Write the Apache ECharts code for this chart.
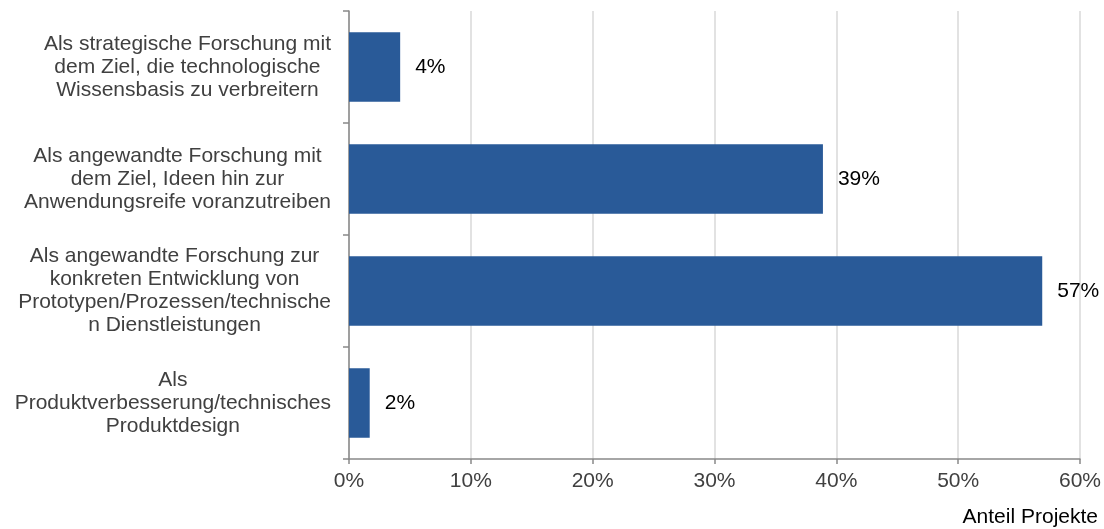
<!DOCTYPE html>
<html>
<head>
<meta charset="utf-8">
<script src="https://cdn.jsdelivr.net/npm/echarts@6/dist/echarts.min.js"></script>
<style>
  html, body { margin: 0; padding: 0; background: #fff; }
  #chart { width: 1104px; height: 529px; }
</style>
</head>
<body>
<div id="chart"></div>
<script>
// Kategorien (von oben nach unten)
const categories = [
  "Als strategische Forschung mit\ndem Ziel, die technologische\nWissensbasis zu verbreitern",
  "Als angewandte Forschung mit\ndem Ziel, Ideen hin zur\nAnwendungsreife voranzutreiben",
  "Als angewandte Forschung zur\nkonkreten Entwicklung von\nPrototypen/Prozessen/technische\nn Dienstleistungen",
  "Als\nProduktverbesserung/technisches\nProduktdesign"
]
// Anteil Projekte in %
const shares = [4.2, 38.9, 56.9, 1.7]
const xTicks = [0, 10, 20, 30, 40, 50, 60]
const xName = "Anteil Projekte"

const font = "'Liberation Sans', Arial, sans-serif"

const chart = echarts.init(document.getElementById("chart"))
window.addEventListener("resize", function () {
  chart.resize()
})

chart.setOption({
  animation: false,
  // Achsentitel unten rechts
  title: {
    text: xName,
    right: 6,
    top: 507,
    padding: 0,
    textStyle: { fontFamily: font, fontSize: 21, fontWeight: "normal", color: "#000", lineHeight: 21 }
  },
  grid: { left: 349, right: 24, top: 11, bottom: 70, containLabel: false, outerBoundsMode: "none" },
  xAxis: {
    type: "value",
    min: xTicks[0],
    max: xTicks[xTicks.length - 1],
    interval: 10,
    axisLine: { show: true, lineStyle: { color: "#898989", width: 1.5 } },
    axisTick: { show: true, length: 5, lineStyle: { color: "#898989", width: 1.5 } },
    axisLabel: {
      formatter: "{value}%",
      fontFamily: font,
      fontSize: 21,
      color: "#404040",
      margin: 12
    },
    splitLine: { show: true, lineStyle: { color: "#d9d9d9", width: 1.5 } }
  },
  yAxis: {
    type: "category",
    data: categories,
    inverse: true,
    axisLine: { show: true, lineStyle: { color: "#898989", width: 1.5 } },
    axisTick: { show: true, length: 6, alignWithLabel: false, lineStyle: { color: "#898989", width: 1.5 } },
    axisLabel: {
      margin: 18,
      fontFamily: font,
      fontSize: 21,
      color: "#404040",
      lineHeight: 23,
      // Zeilen innerhalb des Blocks zentrieren
      formatter: function (v) {
        return v.split("\n").map(function (l) { return "{c|" + l + "}" }).join("\n")
      },
      rich: {
        c: { align: "center", fontFamily: font, fontSize: 21, color: "#404040", lineHeight: 23 }
      }
    },
    splitLine: { show: false }
  },
  series: [
    {
      type: "bar",
      data: shares,
      barCategoryGap: "38%",
      itemStyle: { color: "#295A98" },
      label: {
        show: true,
        position: "right",
        distance: 15,
        fontFamily: font,
        fontSize: 21,
        color: "#000",
        formatter: function (p) {
          return Math.round(p.value) + "%"
        }
      }
    }
  ]
})
</script>
</body>
</html>
